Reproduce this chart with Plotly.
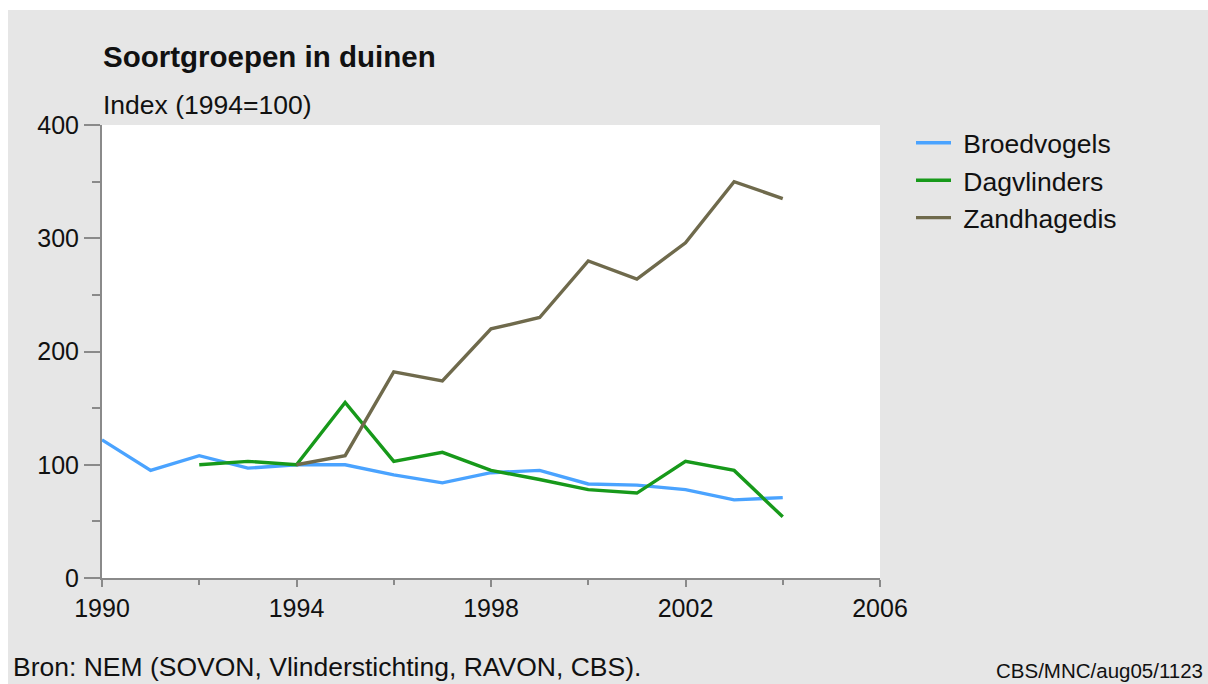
import plotly.graph_objects as go

years_b = list(range(1990, 2005))
broedvogels = [122, 95, 108, 97, 100, 100, 91, 84, 93, 95, 83, 82, 78, 69, 71]

years_d = list(range(1992, 2005))
dagvlinders = [100, 103, 100, 155, 103, 111, 95, 87, 78, 75, 103, 95, 54]

years_z = list(range(1994, 2005))
zandhagedis = [100, 108, 182, 174, 220, 230, 280, 264, 296, 350, 335]

series = [
    ("Broedvogels", years_b, broedvogels, "#4aa3ff"),
    ("Dagvlinders", years_d, dagvlinders, "#17991a"),
    ("Zandhagedis", years_z, zandhagedis, "#6f6a4c"),
]

FONT = "Liberation Sans, Arial, sans-serif"
W, H = 1208, 684
L, R, T, B = 102, 880, 125, 578

def px_x(px):
    return (px - L) / (R - L)

def px_y(py):
    return (B - py) / (B - T)

fig = go.Figure()
for name, xs, ys, col in series:
    fig.add_trace(go.Scatter(x=xs, y=ys, mode="lines", name="\u00a0" + name,
                             line=dict(color=col, width=3.4)))

fig.update_layout(
    width=W, height=H,
    margin=dict(l=L, r=W - R, t=T, b=H - B),
    paper_bgcolor="#e6e6e6",
    plot_bgcolor="white",
    font=dict(family=FONT, color="#111111"),
    showlegend=True,
    legend=dict(x=px_x(911), y=px_y(119), xanchor="left", yanchor="top",
                bgcolor="rgba(0,0,0,0)", font=dict(size=26.5, family=FONT, color="#111111"),
                tracegroupgap=0, itemwidth=35),
    xaxis=dict(range=[1990, 2006], tickvals=[1990, 1994, 1998, 2002, 2006],
               showgrid=False, zeroline=False, showline=True, linecolor="#8a8a8a", linewidth=2,
               ticks="outside", ticklen=7, tickwidth=1.5, tickcolor="#8a8a8a",
               tickfont=dict(size=25, family=FONT, color="#111111"),
               minor=dict(dtick=2, tick0=1990, ticks="outside", ticklen=5, tickcolor="#8a8a8a", tickwidth=1.5)),
    yaxis=dict(range=[0, 400], tickvals=[0, 100, 200, 300, 400],
               showgrid=False, zeroline=False, showline=True, linecolor="#8a8a8a", linewidth=2,
               ticks="outside", ticklen=16, tickwidth=1.5, tickcolor="#8a8a8a",
               tickfont=dict(size=25, family=FONT, color="#111111"),
               minor=dict(dtick=50, tick0=0, ticks="outside", ticklen=8, tickcolor="#8a8a8a", tickwidth=1.5)),
    shapes=[
        dict(type="rect", xref="paper", yref="paper", x0=px_x(-5), x1=px_x(1215),
             y0=px_y(10), y1=px_y(-5), fillcolor="white", line=dict(width=0), layer="above"),
        dict(type="rect", xref="paper", yref="paper", x0=px_x(-5), x1=px_x(8),
             y0=px_y(700), y1=px_y(-5), fillcolor="white", line=dict(width=0), layer="above"),
    ],
    annotations=[
        dict(text="<b>Soortgroepen in duinen</b>", xref="paper", yref="paper",
             x=px_x(101), y=px_y(57), xanchor="left", yanchor="middle", showarrow=False,
             font=dict(size=29.5, family=FONT, color="#111111")),
        dict(text="Index (1994=100)", xref="paper", yref="paper",
             x=px_x(101), y=px_y(105), xanchor="left", yanchor="middle", showarrow=False,
             font=dict(size=26.5, family=FONT, color="#111111")),
        dict(text="Bron: NEM (SOVON, Vlinderstichting, RAVON, CBS).", xref="paper", yref="paper",
             x=px_x(11), y=px_y(667), xanchor="left", yanchor="middle", showarrow=False,
             font=dict(size=26.5, family=FONT, color="#111111")),
        dict(text="CBS/MNC/aug05/1123", xref="paper", yref="paper",
             x=px_x(994), y=px_y(670), xanchor="left", yanchor="middle", showarrow=False,
             font=dict(size=20.5, family=FONT, color="#111111")),
    ],
)

fig.write_html("out.html", config={"displayModeBar": False},
               post_script="document.body.style.margin='0';document.body.style.overflow='hidden';")
